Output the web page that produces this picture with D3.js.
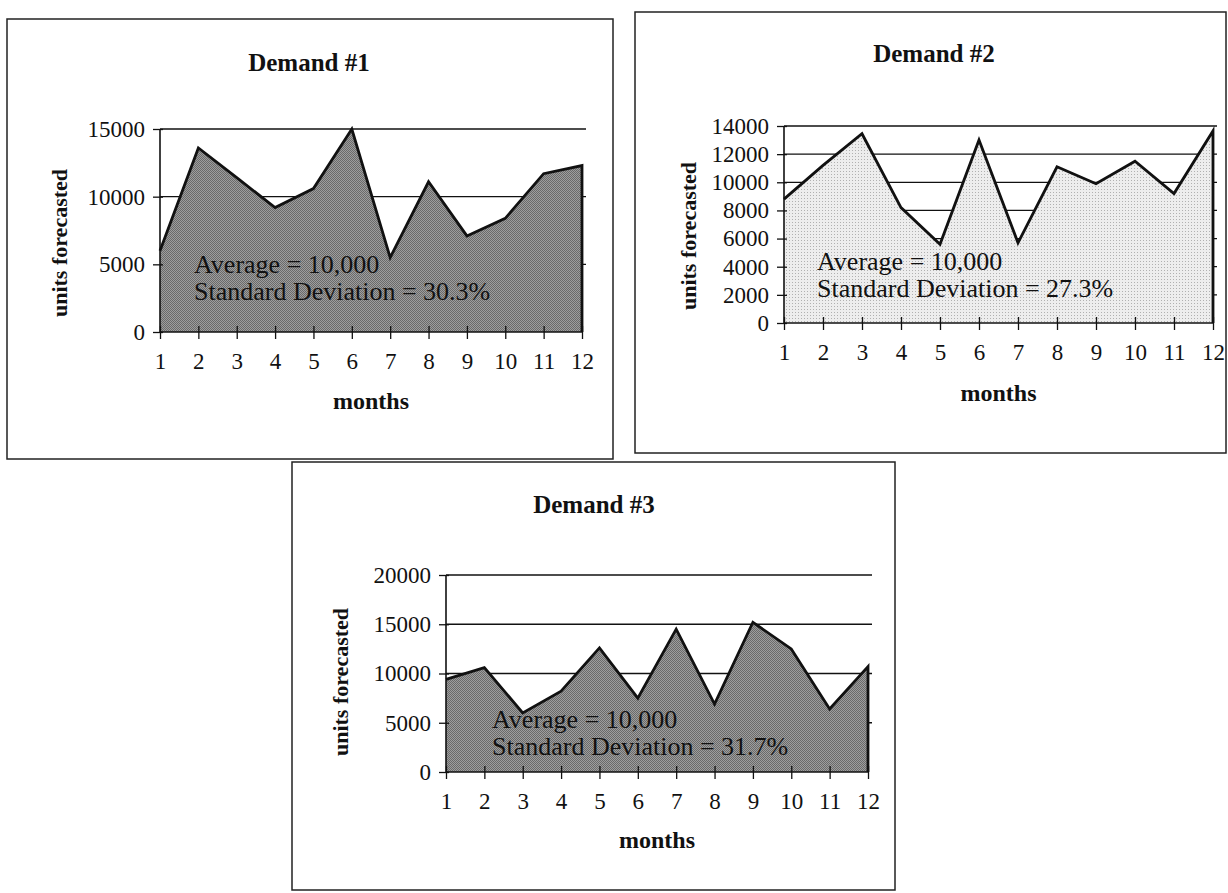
<!DOCTYPE html>
<html>
<head>
<meta charset="utf-8">
<script src="https://cdn.jsdelivr.net/npm/d3@7"></script>
<style>
  html, body { margin: 0; padding: 0; background: #ffffff; }
  svg { display: block; }
  text { font-family: "Liberation Serif", "Times New Roman", serif; fill: #111; }
</style>
</head>
<body>
<svg id="chart" width="1228" height="893"></svg>
<script>
// ---------------- data ----------------
const months = [1, 2, 3, 4, 5, 6, 7, 8, 9, 10, 11, 12];

const demand1 = [6000, 13600, 11400, 9200, 10600, 15000, 5500, 11100, 7100, 8400, 11700, 12300];
const demand2 = [8800, 11200, 13450, 8200, 5600, 13000, 5700, 11100, 9900, 11500, 9200, 13650];
const demand3 = [9400, 10600, 6000, 8200, 12600, 7500, 14500, 6900, 15200, 12500, 6400, 10700];

const yTicks1 = [0, 5000, 10000, 15000];
const yTicks2 = [0, 2000, 4000, 6000, 8000, 10000, 12000, 14000];
const yTicks3 = [0, 5000, 10000, 15000, 20000];

const titles = ["Demand #1", "Demand #2", "Demand #3"];
const averages = ["Average = 10,000", "Average = 10,000", "Average = 10,000"];
const deviations = ["Standard Deviation = 30.3%", "Standard Deviation = 27.3%", "Standard Deviation = 31.7%"];
const xAxisTitle = "months";
const yAxisTitle = "units forecasted";

// ---------------- layout (positions / styles only) ----------------
const layouts = [
  { box: [7, 19, 613, 459], plot: [160, 582, 332, 129], title: [309, 71], ylab: [62, 243], ann: [194, 267], xlabY: 403, fill: "url(#darkFill)" },
  { box: [635, 12, 1226, 453], plot: [784, 1213, 323, 126], title: [934, 62], ylab: [691, 236], ann: [817, 264], xlabY: 395, fill: "url(#lightFill)" },
  { box: [292, 462, 895, 890], plot: [446, 868, 772, 575], title: [594, 513], ylab: [343, 682], ann: [492, 722], xlabY: 842, fill: "url(#darkFill)" }
];

const series = [demand1, demand2, demand3];
const tickSets = [yTicks1, yTicks2, yTicks3];

const svg = d3.select("#chart");
const defs = svg.append("defs");

// dark stipple
const pd = defs.append("pattern").attr("id", "darkFill").attr("width", 2).attr("height", 2)
  .attr("patternUnits", "userSpaceOnUse");
pd.append("rect").attr("width", 2).attr("height", 2).attr("fill", "#9e9e9e");
pd.append("rect").attr("x", 0).attr("y", 0).attr("width", 1).attr("height", 1).attr("fill", "#6a6a6a");
pd.append("rect").attr("x", 1).attr("y", 1).attr("width", 1).attr("height", 1).attr("fill", "#6a6a6a");

// light stipple
const pl = defs.append("pattern").attr("id", "lightFill").attr("width", 3).attr("height", 3)
  .attr("patternUnits", "userSpaceOnUse");
pl.append("rect").attr("width", 3).attr("height", 3).attr("fill", "#ededed");
pl.append("rect").attr("x", 0).attr("y", 0).attr("width", 1).attr("height", 1).attr("fill", "#b0b0b0");

layouts.forEach((L, i) => {
  const data = series[i];
  const ticks = tickSets[i];
  const g = svg.append("g");

  // chart frame
  g.append("rect")
    .attr("x", L.box[0]).attr("y", L.box[1])
    .attr("width", L.box[2] - L.box[0]).attr("height", L.box[3] - L.box[1])
    .attr("fill", "none").attr("stroke", "#222").attr("stroke-width", 1.5);

  const x = d3.scaleLinear().domain([months[0], months[months.length - 1]]).range([L.plot[0], L.plot[1]]);
  const y = d3.scaleLinear().domain([0, d3.max(ticks)]).range([L.plot[2], L.plot[3]]);

  // gridlines
  g.append("g").selectAll("line").data(ticks.filter(t => t > 0)).join("line")
    .attr("x1", x(months[0])).attr("x2", x(months[months.length - 1]) + 4)
    .attr("y1", d => y(d)).attr("y2", d => y(d))
    .attr("stroke", "#111").attr("stroke-width", 1.3);

  // area
  const pts = months.map((m, k) => [m, data[k]]);
  const area = d3.area().x(d => x(d[0])).y0(y(0)).y1(d => y(d[1]));
  g.append("path").datum(pts).attr("d", area).attr("fill", L.fill).attr("stroke", "none");

  // outline (top line plus right edge down to the axis)
  const outline = pts.concat([[months[months.length - 1], 0]]);
  const line = d3.line().x(d => x(d[0])).y(d => y(d[1]));
  g.append("path").datum(outline).attr("d", line)
    .attr("fill", "none").attr("stroke", "#111").attr("stroke-width", 2.8)
    .attr("stroke-linejoin", "miter");

  // y axis
  const yAxis = d3.axisLeft(y).tickValues(ticks).tickSize(7).tickFormat(d3.format("d"));
  const ya = g.append("g").attr("transform", `translate(${L.plot[0]},0)`).call(yAxis);
  ya.select(".domain").attr("stroke", "#111").attr("stroke-width", 1.6)
    .attr("d", `M0,${L.plot[2]}V${L.plot[3]}`);
  ya.selectAll(".tick line").attr("stroke", "#111").attr("stroke-width", 1.3).attr("x1", 3);
  ya.selectAll(".tick text").attr("x", -15).attr("font-size", 23)
    .attr("font-family", "Liberation Serif").attr("fill", "#111");

  // x axis
  const xAxis = d3.axisBottom(x).tickValues(months).tickSize(7).tickFormat(d3.format("d"));
  const xa = g.append("g").attr("transform", `translate(0,${L.plot[2]})`).call(xAxis);
  xa.select(".domain").attr("stroke", "#111").attr("stroke-width", 1.6)
    .attr("d", `M${L.plot[0]},0H${L.plot[1]}`);
  xa.selectAll(".tick line").attr("stroke", "#111").attr("stroke-width", 1.3).attr("y1", -6);
  xa.selectAll(".tick text").attr("y", 21).attr("font-size", 23)
    .attr("font-family", "Liberation Serif").attr("fill", "#111");

  // title
  g.append("text").attr("x", L.title[0]).attr("y", L.title[1])
    .attr("text-anchor", "middle").attr("font-size", 25).attr("font-weight", "bold")
    .text(titles[i]);

  // axis titles
  g.append("text").attr("x", (L.plot[0] + L.plot[1]) / 2).attr("y", L.xlabY)
    .attr("text-anchor", "middle").attr("dominant-baseline", "middle")
    .attr("font-size", 24).attr("font-weight", "bold").text(xAxisTitle);

  g.append("text")
    .attr("transform", `translate(${L.ylab[0]},${L.ylab[1]}) rotate(-90)`)
    .attr("text-anchor", "middle").attr("dominant-baseline", "middle")
    .attr("font-size", 22).attr("font-weight", "bold").text(yAxisTitle);

  // annotation
  g.append("text").attr("x", L.ann[0]).attr("y", L.ann[1])
    .attr("dominant-baseline", "middle").attr("font-size", 26).text(averages[i]);
  g.append("text").attr("x", L.ann[0]).attr("y", L.ann[1] + 27)
    .attr("dominant-baseline", "middle").attr("font-size", 26).text(deviations[i]);
});
</script>
</body>
</html>
